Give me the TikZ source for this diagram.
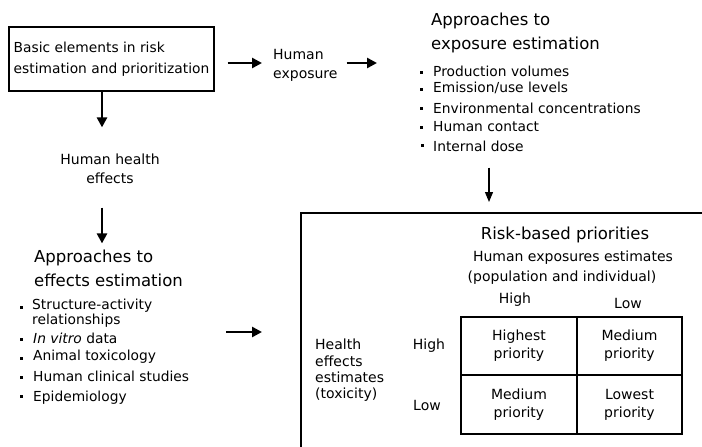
\documentclass[tikz,border=0pt]{standalone}
\usepackage{fontspec}
\setmainfont{DejaVu Sans}
\usetikzlibrary{arrows.meta,calc}
\begin{document}
\begin{tikzpicture}[x=1pt,y=-1pt,
  txt/.style={inner sep=0pt, align=left, font=\fontsize{14}{19}\selectfont},
  head/.style={inner sep=0pt, align=left, font=\fontsize{16.5}{24}\selectfont},
  btxt/.style={inner sep=0pt, anchor=west, align=left, font=\fontsize{13.8}{15}\selectfont},
  bdot/.style={fill=black, inner sep=0pt, minimum width=3pt, minimum height=3pt, draw=none},
  cell/.style={draw, line width=1.3pt, inner sep=0pt, align=center, font=\fontsize{14}{18}\selectfont},
  bigarr/.style={line width=2.8pt, -{Triangle[length=10pt,width=10pt]}},
  thinarr/.style={line width=1.2pt, -{Triangle[length=10pt,width=8pt]}}
]
\useasboundingbox (0,0) rectangle (702,447);
\clip (0,0) rectangle (702,447);

% top-left box
\node[draw, line width=1.3pt, minimum width=205pt, minimum height=64pt, inner sep=0pt,
      align=left, font=\fontsize{13.8}{21}\selectfont]
  (basic) at (111.5,59) {Basic elements in risk\\estimation and prioritization};

\node[txt, anchor=west] (hexp) at (273,65.5) {Human\\exposure};

% exposure estimation
\node[head, anchor=west] (exphead) at (431,33) {Approaches to\\exposure estimation};
\node[btxt] (pv) at (433,71) {Production volumes};
\node[btxt] (eul) at (433,88) {Emission/use levels};
\node[btxt] (ec) at (433,108) {Environmental concentrations};
\node[btxt] (hc) at (433,127) {Human contact};
\node[btxt] (idose) at (433,146) {Internal dose};
\node[bdot] (bpv) at (421,72) {};
\node[bdot] (beul) at (421,89) {};
\node[bdot] (bec) at (421,108) {};
\node[bdot] (bhc) at (421,127) {};
\node[bdot] (bid) at (422,145) {};

% health effects
\node[txt, align=center] (hhe) at (110,168.5) {Human health\\effects};
\node[head, anchor=west] (effhead) at (34,268) {Approaches to\\effects estimation};
\node[btxt] (sar) at (32,313.5) {Structure-activity\\relationships};
\node[btxt] (ivd) at (33,338) {\textit{In vitro} data};
\node[btxt] (atox) at (33,357) {Animal toxicology};
\node[btxt] (hcs) at (33,376) {Human clinical studies};
\node[btxt] (epi) at (33,398) {Epidemiology};
\node[bdot] (bsar) at (21,307) {};
\node[bdot] (bivd) at (21,339) {};
\node[bdot] (batox) at (21,358) {};
\node[bdot] (bhcs) at (21,377) {};
\node[bdot] (bepi) at (21,396) {};

% risk box
\node[draw, line width=1.5pt, anchor=north west, minimum width=450pt, minimum height=300pt, inner sep=0pt]
  (riskbox) at (300,212) {};
\node[head] (rbp) at (565,235) {Risk-based priorities};
\node[txt] (hee) at (573,258) {Human exposures estimates};
\node[txt] (pai) at (562,278) {(population and individual)};
\node[txt] (colh) at (515,300) {High};
\node[txt] (coll) at (628,303) {Low};
\node[txt] (rowh) at (429,346) {High};
\node[txt] (rowl) at (427,405) {Low};
\node[txt, anchor=west, font=\fontsize{14}{16.3}\selectfont] (heff) at (315,370.5) {Health\\effects\\estimates\\(toxicity)};

\node[cell, minimum width=116pt, minimum height=58pt] (c11) at (519,346) {Highest\\priority};
\node[cell, minimum width=105pt, minimum height=58pt] (c12) at (629.5,346) {Medium\\priority};
\node[cell, minimum width=116pt, minimum height=59pt] (c21) at (519,404.5) {Medium\\priority};
\node[cell, minimum width=105pt, minimum height=59pt] (c22) at (629.5,404.5) {Lowest\\priority};

% connectors
\coordinate (r1) at (0,63);
\coordinate (r2) at (0,332);
\coordinate (c1) at (102,0);
\coordinate (c2) at (489,0);

\draw[bigarr, shorten <=13pt, shorten >=11pt] (basic.east |- r1) -- (hexp.west |- r1);
\draw[bigarr, shorten <=9pt, shorten >=54pt] (hexp.east |- r1) -- (exphead.west |- r1);
\draw[bigarr, shorten >=26pt] (basic.south -| c1) -- (hhe.north -| c1);
\draw[bigarr, shorten <=24pt, shorten >=6pt] (hhe.south -| c1) -- (effhead.north -| c1);
\draw[bigarr, shorten <=37pt, shorten >=38pt] (hcs.east |- r2) -- (riskbox.west |- r2);
\draw[thinarr, shorten <=16pt, shorten >=10pt] (idose.south -| c2) -- (riskbox.north -| c2);
\end{tikzpicture}
\end{document}
